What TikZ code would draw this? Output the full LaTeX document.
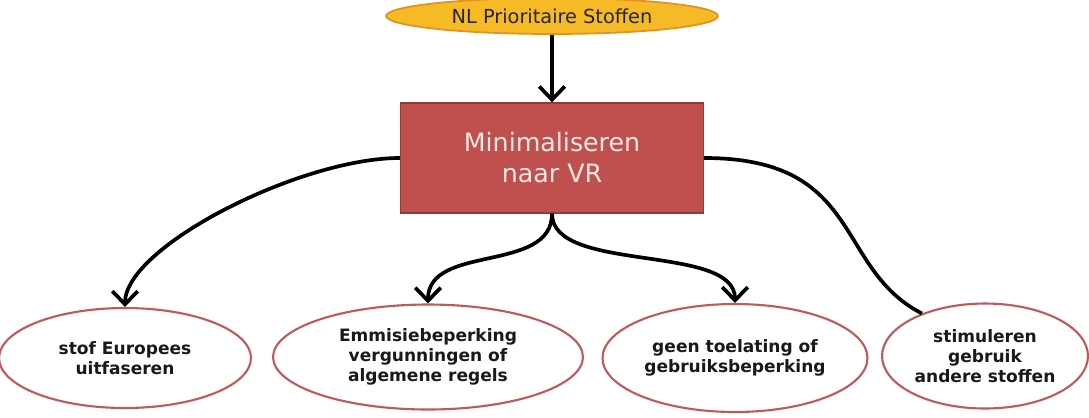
\documentclass[tikz,border=0pt]{standalone}
\usepackage{fontspec}
\setmainfont{DejaVu Sans}
\usepackage{tikz}
\usetikzlibrary{shapes,shapes.geometric,arrows,arrows.meta,calc,positioning}

\definecolor{goldfill}{RGB}{245,186,38}
\definecolor{golddraw}{RGB}{226,146,34}
\definecolor{redfill}{RGB}{192,80,77}
\definecolor{reddraw}{RGB}{150,58,56}
\definecolor{ringdraw}{RGB}{192,88,92}
\definecolor{paletext}{RGB}{250,232,230}

\begin{document}
\begin{tikzpicture}[x=0.02cm,y=-0.02cm,->,>={Straight Barb[length=7.5pt,width=14.5pt]},
                    line width=2.1pt,
                    topic/.style={ellipse,draw=golddraw,fill=goldfill,line width=1pt,inner sep=0pt,
                                  minimum width=6.64cm,minimum height=0.72cm,
                                  font=\fontsize{11}{13}\selectfont,text=black!85},
                    main/.style={rectangle,draw=reddraw,fill=redfill,line width=0.8pt,
                                 minimum width=6.06cm,minimum height=2.2cm,align=center,
                                 font=\fontsize{14.4}{17.6}\selectfont,text=paletext},
                    goal/.style={ellipse,draw=ringdraw,fill=white,line width=1.2pt,inner sep=0pt,
                                 align=center,font=\bfseries\fontsize{9.7}{11.4}\selectfont,text=black!90}]

  \useasboundingbox (0,0) rectangle (1089,417);

  \node[topic] (np)  at (552,16)  {NL Prioritaire Stoffen};
  \node[main]  (min) at (552,158) {Minimaliseren\\naar VR};

  \node[goal,minimum width=5.04cm,minimum height=2.0cm]  (e1) at (125,358) {stof Europees\\uitfaseren};
  \node[goal,minimum width=6.2cm,minimum height=2.1cm]   (e2) at (428,357) {Emmisiebeperking\\vergunningen of\\algemene regels};
  \node[goal,minimum width=5.3cm,minimum height=2.16cm]  (e3) at (735,358) {geen toelating of\\gebruiksbeperking};
  \node[goal,minimum width=4.12cm,minimum height=2.1cm]  (e4) at (985,356) {stimuleren\\gebruik\\andere stoffen};

  \path (np) edge (min);

  \draw (min.west)  .. controls +(-100,0) and +(0,-60) .. (e1.north);
  \draw (min.south) .. controls +(0,60) and +(0,-60) .. (e2.north);
  \draw (min.south) .. controls +(0,60) and +(0,-60) .. (e3.north);
  \draw[-] (min.east) .. controls +(160,0) and +(-88,-45) .. (e4.146);
\end{tikzpicture}
\end{document}
